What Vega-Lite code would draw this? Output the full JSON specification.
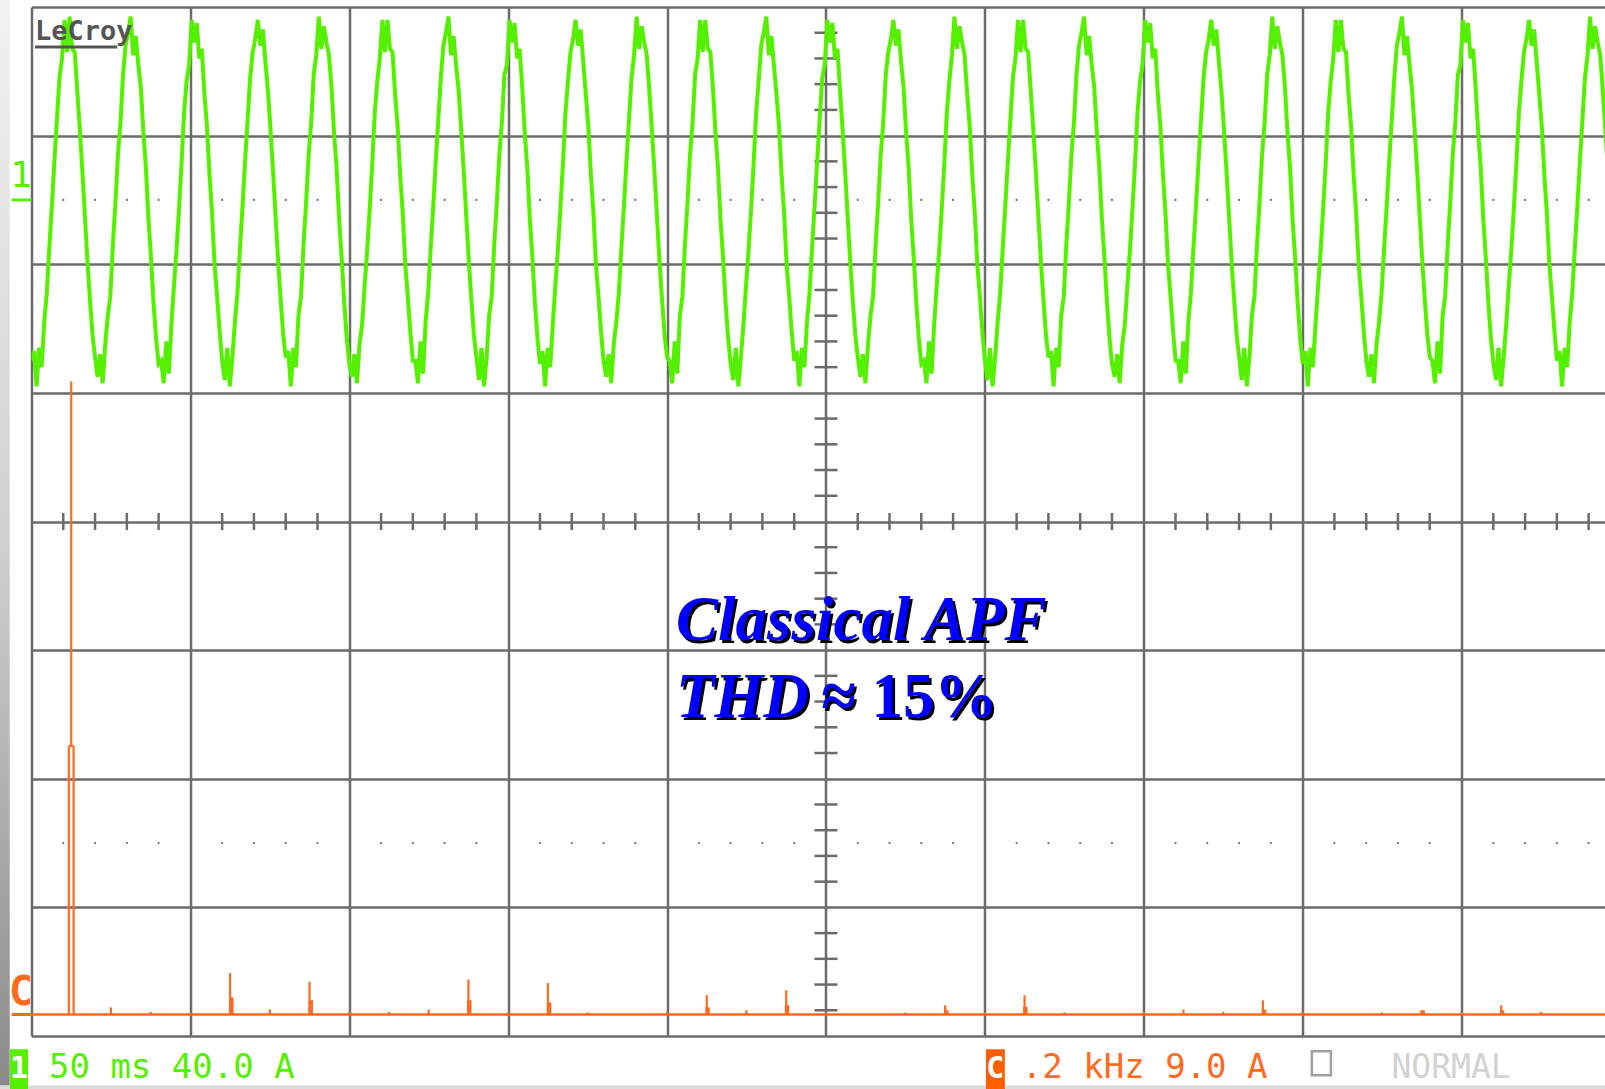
{
"$schema": "https://vega.github.io/schema/vega-lite/v6.json",
"width": 1573.5,
"height": 1029,
"autosize": {"type": "none"},
"padding": {"left": 31.5, "top": 7, "right": 0, "bottom": 53},
"background": "white",
"config": {"view": {"stroke": null}},
"datasets": {
"wave": [
{"t":0,"a":-50},{"t":0.8,"a":-47},{"t":1.6,"a":-58},{"t":2.4,"a":-46},{"t":3.2,"a":-52},{"t":4,"a":-38},{"t":4.8,"a":-29},{"t":5.6,"a":-15},{"t":6.4,"a":-2},{"t":7.2,"a":12},{"t":8,"a":25},{"t":8.8,"a":38},{"t":9.6,"a":44},{"t":10.4,"a":56},{"t":11.2,"a":46},{"t":12,"a":57},{"t":12.8,"a":47},{"t":13.6,"a":46},{"t":14.4,"a":34},{"t":15.2,"a":22},{"t":16,"a":9},{"t":16.8,"a":-5},{"t":17.6,"a":-19},{"t":18.4,"a":-31},{"t":19.2,"a":-42},
{"t":20,"a":-49},{"t":20.8,"a":-55},{"t":21.6,"a":-48},{"t":22.4,"a":-57},{"t":23.2,"a":-45},{"t":24,"a":-36},{"t":24.8,"a":-30},{"t":25.6,"a":-14},{"t":26.4,"a":-1},{"t":27.2,"a":14},{"t":28,"a":24},{"t":28.8,"a":39},{"t":29.6,"a":48},{"t":30.4,"a":52},{"t":31.2,"a":57},{"t":32,"a":45},{"t":32.8,"a":51},{"t":33.6,"a":42},{"t":34.4,"a":35},{"t":35.2,"a":21},{"t":36,"a":10},{"t":36.8,"a":-6},{"t":37.6,"a":-18},{"t":38.4,"a":-32},{"t":39.2,"a":-43},
{"t":40,"a":-51},{"t":40.8,"a":-50},{"t":41.6,"a":-57},{"t":42.4,"a":-44},{"t":43.2,"a":-54},{"t":44,"a":-39},{"t":44.8,"a":-27},{"t":45.6,"a":-16},{"t":46.4,"a":-3},{"t":47.2,"a":11},{"t":48,"a":27},{"t":48.8,"a":37},{"t":49.6,"a":42},{"t":50.4,"a":56},{"t":51.2,"a":49},{"t":52,"a":55},{"t":52.8,"a":44},{"t":53.6,"a":47},{"t":54.4,"a":33},{"t":55.2,"a":23},{"t":56,"a":8},{"t":56.8,"a":-4},{"t":57.6,"a":-20},{"t":58.4,"a":-30},{"t":59.2,"a":-41},
{"t":60,"a":-50},{"t":60.8,"a":-56},{"t":61.6,"a":-46},{"t":62.4,"a":-58},{"t":63.2,"a":-49},{"t":64,"a":-38},{"t":64.8,"a":-29},{"t":65.6,"a":-15},{"t":66.4,"a":-2},{"t":67.2,"a":12},{"t":68,"a":25},{"t":68.8,"a":38},{"t":69.6,"a":46},{"t":70.4,"a":50},{"t":71.2,"a":56},{"t":72,"a":48},{"t":72.8,"a":53},{"t":73.6,"a":43},{"t":74.4,"a":34},{"t":75.2,"a":22},{"t":76,"a":9},{"t":76.8,"a":-5},{"t":77.6,"a":-19},{"t":78.4,"a":-31},{"t":79.2,"a":-42},
{"t":80,"a":-49},{"t":80.8,"a":-47},{"t":81.6,"a":-58},{"t":82.4,"a":-46},{"t":83.2,"a":-52},{"t":84,"a":-36},{"t":84.8,"a":-30},{"t":85.6,"a":-14},{"t":86.4,"a":-1},{"t":87.2,"a":14},{"t":88,"a":24},{"t":88.8,"a":39},{"t":89.6,"a":45},{"t":90.4,"a":57},{"t":91.2,"a":47},{"t":92,"a":54},{"t":92.8,"a":49},{"t":93.6,"a":45},{"t":94.4,"a":35},{"t":95.2,"a":21},{"t":96,"a":10},{"t":96.8,"a":-6},{"t":97.6,"a":-18},{"t":98.4,"a":-32},{"t":99.2,"a":-43},
{"t":100,"a":-51},{"t":100.8,"a":-55},{"t":101.6,"a":-48},{"t":102.4,"a":-57},{"t":103.2,"a":-45},{"t":104,"a":-39},{"t":104.8,"a":-27},{"t":105.6,"a":-16},{"t":106.4,"a":-3},{"t":107.2,"a":11},{"t":108,"a":27},{"t":108.8,"a":37},{"t":109.6,"a":44},{"t":110.4,"a":56},{"t":111.2,"a":46},{"t":112,"a":56},{"t":112.8,"a":47},{"t":113.6,"a":46},{"t":114.4,"a":33},{"t":115.2,"a":23},{"t":116,"a":8},{"t":116.8,"a":-4},{"t":117.6,"a":-20},{"t":118.4,"a":-30},{"t":119.2,"a":-41},
{"t":120,"a":-50},{"t":120.8,"a":-50},{"t":121.6,"a":-57},{"t":122.4,"a":-44},{"t":123.2,"a":-54},{"t":124,"a":-38},{"t":124.8,"a":-29},{"t":125.6,"a":-15},{"t":126.4,"a":-2},{"t":127.2,"a":12},{"t":128,"a":25},{"t":128.8,"a":38},{"t":129.6,"a":48},{"t":130.4,"a":52},{"t":131.2,"a":57},{"t":132,"a":45},{"t":132.8,"a":51},{"t":133.6,"a":42},{"t":134.4,"a":34},{"t":135.2,"a":22},{"t":136,"a":9},{"t":136.8,"a":-5},{"t":137.6,"a":-19},{"t":138.4,"a":-31},{"t":139.2,"a":-42},
{"t":140,"a":-49},{"t":140.8,"a":-56},{"t":141.6,"a":-46},{"t":142.4,"a":-58},{"t":143.2,"a":-49},{"t":144,"a":-36},{"t":144.8,"a":-30},{"t":145.6,"a":-14},{"t":146.4,"a":-1},{"t":147.2,"a":14},{"t":148,"a":24},{"t":148.8,"a":39},{"t":149.6,"a":42},{"t":150.4,"a":56},{"t":151.2,"a":49},{"t":152,"a":55},{"t":152.8,"a":44},{"t":153.6,"a":47},{"t":154.4,"a":35},{"t":155.2,"a":21},{"t":156,"a":10},{"t":156.8,"a":-6},{"t":157.6,"a":-18},{"t":158.4,"a":-32},{"t":159.2,"a":-43},
{"t":160,"a":-51},{"t":160.8,"a":-47},{"t":161.6,"a":-58},{"t":162.4,"a":-46},{"t":163.2,"a":-52},{"t":164,"a":-39},{"t":164.8,"a":-27},{"t":165.6,"a":-16},{"t":166.4,"a":-3},{"t":167.2,"a":11},{"t":168,"a":27},{"t":168.8,"a":37},{"t":169.6,"a":46},{"t":170.4,"a":50},{"t":171.2,"a":56},{"t":172,"a":48},{"t":172.8,"a":53},{"t":173.6,"a":43},{"t":174.4,"a":33},{"t":175.2,"a":23},{"t":176,"a":8},{"t":176.8,"a":-4},{"t":177.6,"a":-20},{"t":178.4,"a":-30},{"t":179.2,"a":-41},
{"t":180,"a":-50},{"t":180.8,"a":-55},{"t":181.6,"a":-48},{"t":182.4,"a":-57},{"t":183.2,"a":-45},{"t":184,"a":-38},{"t":184.8,"a":-29},{"t":185.6,"a":-15},{"t":186.4,"a":-2},{"t":187.2,"a":12},{"t":188,"a":25},{"t":188.8,"a":38},{"t":189.6,"a":45},{"t":190.4,"a":57},{"t":191.2,"a":47},{"t":192,"a":54},{"t":192.8,"a":49},{"t":193.6,"a":45},{"t":194.4,"a":34},{"t":195.2,"a":22},{"t":196,"a":9},{"t":196.8,"a":-5},{"t":197.6,"a":-19},{"t":198.4,"a":-31},{"t":199.2,"a":-42},
{"t":200,"a":-49},{"t":200.8,"a":-50},{"t":201.6,"a":-57},{"t":202.4,"a":-44},{"t":203.2,"a":-54},{"t":204,"a":-36},{"t":204.8,"a":-30},{"t":205.6,"a":-14},{"t":206.4,"a":-1},{"t":207.2,"a":14},{"t":208,"a":24},{"t":208.8,"a":39},{"t":209.6,"a":44},{"t":210.4,"a":56},{"t":211.2,"a":46},{"t":212,"a":56},{"t":212.8,"a":47},{"t":213.6,"a":46},{"t":214.4,"a":35},{"t":215.2,"a":21},{"t":216,"a":10},{"t":216.8,"a":-6},{"t":217.6,"a":-18},{"t":218.4,"a":-32},{"t":219.2,"a":-43},
{"t":220,"a":-51},{"t":220.8,"a":-56},{"t":221.6,"a":-46},{"t":222.4,"a":-58},{"t":223.2,"a":-49},{"t":224,"a":-39},{"t":224.8,"a":-27},{"t":225.6,"a":-16},{"t":226.4,"a":-3},{"t":227.2,"a":11},{"t":228,"a":27},{"t":228.8,"a":37},{"t":229.6,"a":48},{"t":230.4,"a":52},{"t":231.2,"a":57},{"t":232,"a":45},{"t":232.8,"a":51},{"t":233.6,"a":42},{"t":234.4,"a":33},{"t":235.2,"a":23},{"t":236,"a":8},{"t":236.8,"a":-4},{"t":237.6,"a":-20},{"t":238.4,"a":-30},{"t":239.2,"a":-41},
{"t":240,"a":-50},{"t":240.8,"a":-47},{"t":241.6,"a":-58},{"t":242.4,"a":-46},{"t":243.2,"a":-52},{"t":244,"a":-38},{"t":244.8,"a":-29},{"t":245.6,"a":-15},{"t":246.4,"a":-2},{"t":247.2,"a":12},{"t":248,"a":25},{"t":248.8,"a":38},{"t":249.6,"a":42},{"t":250.4,"a":56},{"t":251.2,"a":49},{"t":252,"a":55},{"t":252.8,"a":44},{"t":253.6,"a":47},{"t":254.4,"a":34},{"t":255.2,"a":22},{"t":256,"a":9},{"t":256.8,"a":-5},{"t":257.6,"a":-19},{"t":258.4,"a":-31},{"t":259.2,"a":-42},
{"t":260,"a":-49},{"t":260.8,"a":-55},{"t":261.6,"a":-48},{"t":262.4,"a":-57},{"t":263.2,"a":-45},{"t":264,"a":-36},{"t":264.8,"a":-30},{"t":265.6,"a":-14},{"t":266.4,"a":-1},{"t":267.2,"a":14},{"t":268,"a":24},{"t":268.8,"a":39},{"t":269.6,"a":46},{"t":270.4,"a":50},{"t":271.2,"a":56},{"t":272,"a":48},{"t":272.8,"a":53},{"t":273.6,"a":43},{"t":274.4,"a":35},{"t":275.2,"a":21},{"t":276,"a":10},{"t":276.8,"a":-6},{"t":277.6,"a":-18},{"t":278.4,"a":-32},{"t":279.2,"a":-43},
{"t":280,"a":-51},{"t":280.8,"a":-50},{"t":281.6,"a":-57},{"t":282.4,"a":-44},{"t":283.2,"a":-54},{"t":284,"a":-39},{"t":284.8,"a":-27},{"t":285.6,"a":-16},{"t":286.4,"a":-3},{"t":287.2,"a":11},{"t":288,"a":27},{"t":288.8,"a":37},{"t":289.6,"a":45},{"t":290.4,"a":57},{"t":291.2,"a":47},{"t":292,"a":54},{"t":292.8,"a":49},{"t":293.6,"a":45},{"t":294.4,"a":33},{"t":295.2,"a":23},{"t":296,"a":8},{"t":296.8,"a":-4},{"t":297.6,"a":-20},{"t":298.4,"a":-30},{"t":299.2,"a":-41},
{"t":300,"a":-50},{"t":300.8,"a":-56},{"t":301.6,"a":-46},{"t":302.4,"a":-58},{"t":303.2,"a":-49},{"t":304,"a":-38},{"t":304.8,"a":-29},{"t":305.6,"a":-15},{"t":306.4,"a":-2},{"t":307.2,"a":12},{"t":308,"a":25},{"t":308.8,"a":38},{"t":309.6,"a":44},{"t":310.4,"a":56},{"t":311.2,"a":46},{"t":312,"a":56},{"t":312.8,"a":47},{"t":313.6,"a":46},{"t":314.4,"a":34},{"t":315.2,"a":22},{"t":316,"a":9},{"t":316.8,"a":-5},{"t":317.6,"a":-19},{"t":318.4,"a":-31},{"t":319.2,"a":-42},
{"t":320,"a":-49},{"t":320.8,"a":-47},{"t":321.6,"a":-58},{"t":322.4,"a":-46},{"t":323.2,"a":-52},{"t":324,"a":-36},{"t":324.8,"a":-30},{"t":325.6,"a":-14},{"t":326.4,"a":-1},{"t":327.2,"a":14},{"t":328,"a":24},{"t":328.8,"a":39},{"t":329.6,"a":48},{"t":330.4,"a":52},{"t":331.2,"a":57},{"t":332,"a":45},{"t":332.8,"a":51},{"t":333.6,"a":42},{"t":334.4,"a":35},{"t":335.2,"a":21},{"t":336,"a":10},{"t":336.8,"a":-6},{"t":337.6,"a":-18},{"t":338.4,"a":-32},{"t":339.2,"a":-43},
{"t":340,"a":-51},{"t":340.8,"a":-55},{"t":341.6,"a":-48},{"t":342.4,"a":-57},{"t":343.2,"a":-45},{"t":344,"a":-39},{"t":344.8,"a":-27},{"t":345.6,"a":-16},{"t":346.4,"a":-3},{"t":347.2,"a":11},{"t":348,"a":27},{"t":348.8,"a":37},{"t":349.6,"a":42},{"t":350.4,"a":56},{"t":351.2,"a":49},{"t":352,"a":55},{"t":352.8,"a":44},{"t":353.6,"a":47},{"t":354.4,"a":33},{"t":355.2,"a":23},{"t":356,"a":8},{"t":356.8,"a":-4},{"t":357.6,"a":-20},{"t":358.4,"a":-30},{"t":359.2,"a":-41},
{"t":360,"a":-50},{"t":360.8,"a":-50},{"t":361.6,"a":-57},{"t":362.4,"a":-44},{"t":363.2,"a":-54},{"t":364,"a":-38},{"t":364.8,"a":-29},{"t":365.6,"a":-15},{"t":366.4,"a":-2},{"t":367.2,"a":12},{"t":368,"a":25},{"t":368.8,"a":38},{"t":369.6,"a":46},{"t":370.4,"a":50},{"t":371.2,"a":56},{"t":372,"a":48},{"t":372.8,"a":53},{"t":373.6,"a":43},{"t":374.4,"a":34},{"t":375.2,"a":22},{"t":376,"a":9},{"t":376.8,"a":-5},{"t":377.6,"a":-19},{"t":378.4,"a":-31},{"t":379.2,"a":-42},
{"t":380,"a":-49},{"t":380.8,"a":-56},{"t":381.6,"a":-46},{"t":382.4,"a":-58},{"t":383.2,"a":-49},{"t":384,"a":-36},{"t":384.8,"a":-30},{"t":385.6,"a":-14},{"t":386.4,"a":-1},{"t":387.2,"a":14},{"t":388,"a":24},{"t":388.8,"a":39},{"t":389.6,"a":45},{"t":390.4,"a":57},{"t":391.2,"a":47},{"t":392,"a":54},{"t":392.8,"a":49},{"t":393.6,"a":45},{"t":394.4,"a":35},{"t":395.2,"a":21},{"t":396,"a":10},{"t":396.8,"a":-6},{"t":397.6,"a":-18},{"t":398.4,"a":-32},{"t":399.2,"a":-43},
{"t":400,"a":-51},{"t":400.8,"a":-47},{"t":401.6,"a":-58},{"t":402.4,"a":-46},{"t":403.2,"a":-52},{"t":404,"a":-39},{"t":404.8,"a":-27},{"t":405.6,"a":-16},{"t":406.4,"a":-3},{"t":407.2,"a":11},{"t":408,"a":27},{"t":408.8,"a":37},{"t":409.6,"a":44},{"t":410.4,"a":56},{"t":411.2,"a":46},{"t":412,"a":56},{"t":412.8,"a":47},{"t":413.6,"a":46},{"t":414.4,"a":33},{"t":415.2,"a":23},{"t":416,"a":8},{"t":416.8,"a":-4},{"t":417.6,"a":-20},{"t":418.4,"a":-30},{"t":419.2,"a":-41},
{"t":420,"a":-50},{"t":420.8,"a":-55},{"t":421.6,"a":-48},{"t":422.4,"a":-57},{"t":423.2,"a":-45},{"t":424,"a":-38},{"t":424.8,"a":-29},{"t":425.6,"a":-15},{"t":426.4,"a":-2},{"t":427.2,"a":12},{"t":428,"a":25},{"t":428.8,"a":38},{"t":429.6,"a":48},{"t":430.4,"a":52},{"t":431.2,"a":57},{"t":432,"a":45},{"t":432.8,"a":51},{"t":433.6,"a":42},{"t":434.4,"a":34},{"t":435.2,"a":22},{"t":436,"a":9},{"t":436.8,"a":-5},{"t":437.6,"a":-19},{"t":438.4,"a":-31},{"t":439.2,"a":-42},
{"t":440,"a":-49},{"t":440.8,"a":-50},{"t":441.6,"a":-57},{"t":442.4,"a":-44},{"t":443.2,"a":-54},{"t":444,"a":-36},{"t":444.8,"a":-30},{"t":445.6,"a":-14},{"t":446.4,"a":-1},{"t":447.2,"a":14},{"t":448,"a":24},{"t":448.8,"a":39},{"t":449.6,"a":42},{"t":450.4,"a":56},{"t":451.2,"a":49},{"t":452,"a":55},{"t":452.8,"a":44},{"t":453.6,"a":47},{"t":454.4,"a":35},{"t":455.2,"a":21},{"t":456,"a":10},{"t":456.8,"a":-6},{"t":457.6,"a":-18},{"t":458.4,"a":-32},{"t":459.2,"a":-43},
{"t":460,"a":-51},{"t":460.8,"a":-56},{"t":461.6,"a":-46},{"t":462.4,"a":-58},{"t":463.2,"a":-49},{"t":464,"a":-39},{"t":464.8,"a":-27},{"t":465.6,"a":-16},{"t":466.4,"a":-3},{"t":467.2,"a":11},{"t":468,"a":27},{"t":468.8,"a":37},{"t":469.6,"a":46},{"t":470.4,"a":50},{"t":471.2,"a":56},{"t":472,"a":48},{"t":472.8,"a":53},{"t":473.6,"a":43},{"t":474.4,"a":33},{"t":475.2,"a":23},{"t":476,"a":8},{"t":476.8,"a":-4},{"t":477.6,"a":-20},{"t":478.4,"a":-30},{"t":479.2,"a":-41},
{"t":480,"a":-50},{"t":480.8,"a":-47},{"t":481.6,"a":-58},{"t":482.4,"a":-46},{"t":483.2,"a":-52},{"t":484,"a":-38},{"t":484.8,"a":-29},{"t":485.6,"a":-15},{"t":486.4,"a":-2},{"t":487.2,"a":12},{"t":488,"a":25},{"t":488.8,"a":38},{"t":489.6,"a":45},{"t":490.4,"a":57},{"t":491.2,"a":47},{"t":492,"a":54},{"t":492.8,"a":49},{"t":493.6,"a":45},{"t":494.4,"a":34},{"t":495.2,"a":22},{"t":496,"a":9}
],
"spikes": [
{"f":50,"h":44.3,"b":18.8},{"f":47,"h":18.8,"b":0},{"f":53,"h":18.8,"b":0},{"f":100,"h":0.5,"b":0},{"f":150,"h":0.2,"b":0},{"f":250,"h":2.9,"b":0},{"f":300,"h":0.35,"b":0},{"f":350,"h":2.3,"b":0},{"f":400,"h":0.2,"b":0},{"f":450,"h":0.2,"b":0},{"f":500,"h":0.35,"b":0},{"f":550,"h":2.45,"b":0},{"f":600,"h":0.15,"b":0},{"f":650,"h":2.2,"b":0},{"f":700,"h":0.15,"b":0},{"f":800,"h":0.2,"b":0},{"f":850,"h":1.35,"b":0},{"f":900,"h":0.3,"b":0},{"f":950,"h":1.7,"b":0},{"f":1000,"h":0.15,"b":0},{"f":1100,"h":0.15,"b":0},{"f":1150,"h":0.65,"b":0},{"f":1200,"h":0.15,"b":0},{"f":1250,"h":1.35,"b":0},{"f":1300,"h":0.15,"b":0},{"f":1400,"h":0.15,"b":0},{"f":1450,"h":0.35,"b":0},{"f":1500,"h":0.2,"b":0},{"f":1550,"h":1.0,"b":0},{"f":1600,"h":0.15,"b":0},{"f":1700,"h":0.15,"b":0},{"f":1750,"h":0.3,"b":0},{"f":1800,"h":0.15,"b":0},{"f":1850,"h":0.65,"b":0},{"f":1900,"h":0.2,"b":0}
],
"steps": [
{"f":251.5,"h":1.2},{"f":351.5,"h":1.0},{"f":551,"h":1.0},{"f":651.5,"h":0.85},{"f":851,"h":0.5},{"f":951,"h":0.65},{"f":1151.5,"h":0.3},{"f":1251,"h":0.55},{"f":1551.5,"h":0.35},{"f":1751,"h":0.3},{"f":1851,"h":0.3}
],
"hticks": [
{"x":0.2},{"x":0.4},{"x":0.6},{"x":0.8},{"x":1.2},{"x":1.4},{"x":1.6},{"x":1.8},{"x":2.2},{"x":2.4},{"x":2.6},{"x":2.8},{"x":3.2},{"x":3.4},{"x":3.6},{"x":3.8},{"x":4.2},{"x":4.4},{"x":4.6},{"x":4.8},{"x":5.2},{"x":5.4},{"x":5.6},{"x":5.8},{"x":6.2},{"x":6.4},{"x":6.6},{"x":6.8},{"x":7.2},{"x":7.4},{"x":7.6},{"x":7.8},{"x":8.2},{"x":8.4},{"x":8.6},{"x":8.8},{"x":9.2},{"x":9.4},{"x":9.6},{"x":9.8}
],
"vticks": [
{"y":-3.8},{"y":-3.6},{"y":-3.4},{"y":-3.2},{"y":-2.8},{"y":-2.6},{"y":-2.4},{"y":-2.2},{"y":-1.8},{"y":-1.6},{"y":-1.4},{"y":-1.2},{"y":-0.8},{"y":-0.6},{"y":-0.4},{"y":-0.2},{"y":0.2},{"y":0.4},{"y":0.6},{"y":0.8},{"y":1.2},{"y":1.4},{"y":1.6},{"y":1.8},{"y":2.2},{"y":2.4},{"y":2.6},{"y":2.8},{"y":3.2},{"y":3.4},{"y":3.6},{"y":3.8}
],
"italic": [
{"x":4.056,"y":-0.922,"text":"Classical APF"},
{"x":4.056,"y":-1.521,"text":"THD"}
],
"upright": [
{"x":4.97,"y":-1.521,"text":"≈ 15%"}
]
},
"resolve": {"scale": {"x": "independent", "y": "independent", "color": "independent"}, "axis": {"x": "independent", "y": "independent"}},
"layer": [
{
"data": {"values": [{"x0": -0.2, "x1": -0.137, "y0": 4.06, "y1": -4.42}]},
"mark": {"type": "rect", "color": {"gradient": "linear", "x1": 0, "y1": 0, "x2": 0, "y2": 1, "stops": [{"offset": 0, "color": "#f2f2f2"}, {"offset": 0.5, "color": "#d0d0d0"}, {"offset": 1, "color": "#8a8a8a"}]}},
"encoding": {
"x": {"field": "x0", "type": "quantitative", "scale": {"domain": [0, 9.903], "nice": false, "zero": false}, "axis": null},
"x2": {"field": "x1"},
"y": {"field": "y0", "type": "quantitative", "scale": {"domain": [-4, 4], "nice": false, "zero": false}, "axis": null},
"y2": {"field": "y1"}
}
},
{
"data": {"name": "hticks"},
"mark": {"type": "tick", "orient": "vertical", "size": 17, "thickness": 2.5, "color": "#6b6b6b", "opacity": 1},
"encoding": {
"x": {"field": "x", "type": "quantitative", "scale": {"domain": [0, 9.903], "nice": false, "zero": false},
"axis": {"values": [0,1,2,3,4,5,6,7,8,9], "grid": true, "gridColor": "#6b6b6b", "gridWidth": 2.5, "gridOpacity": 1, "labels": false, "ticks": false, "domain": false, "title": null}},
"y": {"datum": 0, "type": "quantitative", "scale": {"domain": [-4, 4], "nice": false, "zero": false}, "axis": null}
}
},
{
"data": {"name": "vticks"},
"mark": {"type": "tick", "orient": "horizontal", "size": 23, "thickness": 2.5, "color": "#6b6b6b", "opacity": 1},
"encoding": {
"x": {"datum": 5, "type": "quantitative", "scale": {"domain": [0, 9.903], "nice": false, "zero": false}, "axis": null},
"y": {"field": "y", "type": "quantitative", "scale": {"domain": [-4, 4], "nice": false, "zero": false},
"axis": {"values": [-4,-3,-2,-1,0,1,2,3,4], "grid": true, "gridColor": "#6b6b6b", "gridWidth": 2.5, "gridOpacity": 1, "labels": false, "ticks": false, "domain": false, "title": null}}
}
},
{
"data": {"name": "hticks"},
"mark": {"type": "point", "filled": true, "size": 5, "color": "#6b6b6b", "opacity": 1},
"encoding": {
"x": {"field": "x", "type": "quantitative", "scale": {"domain": [0, 9.903], "nice": false, "zero": false}, "axis": null},
"y": {"datum": 2.5, "type": "quantitative", "scale": {"domain": [-4, 4], "nice": false, "zero": false}, "axis": null}
}
},
{
"data": {"name": "hticks"},
"mark": {"type": "point", "filled": true, "size": 5, "color": "#6b6b6b", "opacity": 1},
"encoding": {
"x": {"field": "x", "type": "quantitative", "scale": {"domain": [0, 9.903], "nice": false, "zero": false}, "axis": null},
"y": {"datum": -2.5, "type": "quantitative", "scale": {"domain": [-4, 4], "nice": false, "zero": false}, "axis": null}
}
},
{
"data": {"name": "wave"},
"mark": {"type": "line", "color": "#55f000", "strokeWidth": 4, "clip": true, "strokeJoin": "miter"},
"encoding": {
"x": {"field": "t", "type": "quantitative", "scale": {"domain": [0, 495.1], "nice": false, "zero": false}, "axis": null},
"y": {"field": "a", "type": "quantitative", "scale": {"domain": [-260, 60], "nice": false, "zero": false}, "axis": null}
}
},
{
"data": {"values": [{"v": 0}]},
"mark": {"type": "rule", "color": "#ff6a1f", "strokeWidth": 2.5},
"encoding": {
"y": {"field": "v", "type": "quantitative", "scale": {"domain": [-1.5, 70.5], "nice": false, "zero": false}, "axis": null}
}
},
{
"data": {"name": "spikes"},
"mark": {"type": "rule", "color": "#ff6a1f", "strokeWidth": 2.2},
"encoding": {
"x": {"field": "f", "type": "quantitative", "scale": {"domain": [0, 1980.6], "nice": false, "zero": false}, "axis": null},
"y": {"field": "h", "type": "quantitative", "scale": {"domain": [-1.5, 70.5], "nice": false, "zero": false}, "axis": null},
"y2": {"field": "b"}
}
},
{
"data": {"values": [{"f0": 47, "f1": 53, "h": 18.8}]},
"mark": {"type": "rule", "color": "#ff6a1f", "strokeWidth": 2.2},
"encoding": {
"x": {"field": "f0", "type": "quantitative", "scale": {"domain": [0, 1980.6], "nice": false, "zero": false}, "axis": null},
"x2": {"field": "f1"},
"y": {"field": "h", "type": "quantitative", "scale": {"domain": [-1.5, 70.5], "nice": false, "zero": false}, "axis": null}
}
},
{
"data": {"name": "steps"},
"mark": {"type": "rule", "color": "#ff6a1f", "strokeWidth": 4.5},
"encoding": {
"x": {"field": "f", "type": "quantitative", "scale": {"domain": [0, 1980.6], "nice": false, "zero": false}, "axis": null},
"y": {"field": "h", "type": "quantitative", "scale": {"domain": [-1.5, 70.5], "nice": false, "zero": false}, "axis": null},
"y2": {"datum": 0}
}
},
{
"data": {"values": [{"x0": -0.2, "x1": 10, "y0": -4.383, "y1": -4.42}]},
"mark": {"type": "rect", "color": "#dcdcdc"},
"encoding": {
"x": {"field": "x0", "type": "quantitative", "scale": {"domain": [0, 9.903], "nice": false, "zero": false}, "axis": null},
"x2": {"field": "x1"},
"y": {"field": "y0", "type": "quantitative", "scale": {"domain": [-4, 4], "nice": false, "zero": false}, "axis": null},
"y2": {"field": "y1"}
}
},
{
"data": {"values": [{"x0": -0.135, "x1": -0.022, "y0": -4.103, "y1": -4.42}]},
"mark": {"type": "rect", "color": "#55f000"},
"encoding": {
"x": {"field": "x0", "type": "quantitative", "scale": {"domain": [0, 9.903], "nice": false, "zero": false}, "axis": null},
"x2": {"field": "x1"},
"y": {"field": "y0", "type": "quantitative", "scale": {"domain": [-4, 4], "nice": false, "zero": false}, "axis": null},
"y2": {"field": "y1"}
}
},
{
"data": {"values": [{"x0": 6.007, "x1": 6.126, "y0": -4.103, "y1": -4.42}]},
"mark": {"type": "rect", "color": "#ff5f00"},
"encoding": {
"x": {"field": "x0", "type": "quantitative", "scale": {"domain": [0, 9.903], "nice": false, "zero": false}, "axis": null},
"x2": {"field": "x1"},
"y": {"field": "y0", "type": "quantitative", "scale": {"domain": [-4, 4], "nice": false, "zero": false}, "axis": null},
"y2": {"field": "y1"}
}
},
{
"data": {"values": [{"x0": 8.058, "x1": 8.178, "y0": -4.118, "y1": -4.305}]},
"mark": {"type": "rect", "fill": null, "stroke": "#a0a0a0", "strokeWidth": 2.5},
"encoding": {
"x": {"field": "x0", "type": "quantitative", "scale": {"domain": [0, 9.903], "nice": false, "zero": false}, "axis": null},
"x2": {"field": "x1"},
"y": {"field": "y0", "type": "quantitative", "scale": {"domain": [-4, 4], "nice": false, "zero": false}, "axis": null},
"y2": {"field": "y1"}
}
},
{
"data": {"values": [{"x0": 0.022, "x1": 0.54, "y": 3.689}]},
"mark": {"type": "rule", "strokeWidth": 3, "color": "#555555"},
"encoding": {
"x": {"field": "x0", "type": "quantitative", "scale": {"domain": [0, 9.903], "nice": false, "zero": false}, "axis": null},
"x2": {"field": "x1"},
"y": {"field": "y", "type": "quantitative", "scale": {"domain": [-4, 4], "nice": false, "zero": false}, "axis": null}
}
},
{
"data": {"values": [{"x0": -0.125, "x1": 0, "y": 2.5}]},
"mark": {"type": "rule", "strokeWidth": 3, "color": "#55f000"},
"encoding": {
"x": {"field": "x0", "type": "quantitative", "scale": {"domain": [0, 9.903], "nice": false, "zero": false}, "axis": null},
"x2": {"field": "x1"},
"y": {"field": "y", "type": "quantitative", "scale": {"domain": [-4, 4], "nice": false, "zero": false}, "axis": null}
}
},
{
"data": {"values": [{"x0": -0.125, "x1": 0, "y": -3.833}]},
"mark": {"type": "rule", "strokeWidth": 3, "color": "#ff6a1f"},
"encoding": {
"x": {"field": "x0", "type": "quantitative", "scale": {"domain": [0, 9.903], "nice": false, "zero": false}, "axis": null},
"x2": {"field": "x1"},
"y": {"field": "y", "type": "quantitative", "scale": {"domain": [-4, 4], "nice": false, "zero": false}, "axis": null}
}
},
{
"data": {"values": [{"x": 0.022, "y": 3.743, "text": "LeCroy"}]},
"mark": {"type": "text", "font": "DejaVu Sans Mono", "fontSize": 27, "fontWeight": "bold", "align": "left", "baseline": "alphabetic", "color": "#555555"},
"encoding": {
"x": {"field": "x", "type": "quantitative", "scale": {"domain": [0, 9.903], "nice": false, "zero": false}, "axis": null},
"y": {"field": "y", "type": "quantitative", "scale": {"domain": [-4, 4], "nice": false, "zero": false}, "axis": null},
"text": {"field": "text"}
}
},
{
"data": {"values": [{"x": -0.066, "y": 2.6, "text": "1"}]},
"mark": {"type": "text", "font": "DejaVu Sans Mono", "fontSize": 36, "align": "center", "baseline": "alphabetic", "color": "#55f000"},
"encoding": {
"x": {"field": "x", "type": "quantitative", "scale": {"domain": [0, 9.903], "nice": false, "zero": false}, "axis": null},
"y": {"field": "y", "type": "quantitative", "scale": {"domain": [-4, 4], "nice": false, "zero": false}, "axis": null},
"text": {"field": "text"}
}
},
{
"data": {"values": [{"x": -0.066, "y": -3.761, "text": "C"}]},
"mark": {"type": "text", "font": "DejaVu Sans Mono", "fontSize": 40, "fontWeight": "bold", "align": "center", "baseline": "alphabetic", "color": "#ff6a1f"},
"encoding": {
"x": {"field": "x", "type": "quantitative", "scale": {"domain": [0, 9.903], "nice": false, "zero": false}, "axis": null},
"y": {"field": "y", "type": "quantitative", "scale": {"domain": [-4, 4], "nice": false, "zero": false}, "axis": null},
"text": {"field": "text"}
}
},
{
"data": {"values": [{"x": -0.079, "y": -4.33, "text": "1"}, {"x": 6.066, "y": -4.33, "text": "C"}]},
"mark": {"type": "text", "font": "DejaVu Sans Mono", "fontSize": 30, "fontWeight": "bold", "align": "center", "baseline": "alphabetic", "color": "#ffffff"},
"encoding": {
"x": {"field": "x", "type": "quantitative", "scale": {"domain": [0, 9.903], "nice": false, "zero": false}, "axis": null},
"y": {"field": "y", "type": "quantitative", "scale": {"domain": [-4, 4], "nice": false, "zero": false}, "axis": null},
"text": {"field": "text"}
}
},
{
"data": {"values": [{"x": 0.11, "y": -4.33, "text": "50 ms 40.0 A"}]},
"mark": {"type": "text", "font": "DejaVu Sans Mono", "fontSize": 34, "align": "left", "baseline": "alphabetic", "color": "#55f000"},
"encoding": {
"x": {"field": "x", "type": "quantitative", "scale": {"domain": [0, 9.903], "nice": false, "zero": false}, "axis": null},
"y": {"field": "y", "type": "quantitative", "scale": {"domain": [-4, 4], "nice": false, "zero": false}, "axis": null},
"text": {"field": "text"}
}
},
{
"data": {"values": [{"x": 6.233, "y": -4.33, "text": ".2 kHz 9.0 A"}]},
"mark": {"type": "text", "font": "DejaVu Sans Mono", "fontSize": 34, "align": "left", "baseline": "alphabetic", "color": "#ff6a1f"},
"encoding": {
"x": {"field": "x", "type": "quantitative", "scale": {"domain": [0, 9.903], "nice": false, "zero": false}, "axis": null},
"y": {"field": "y", "type": "quantitative", "scale": {"domain": [-4, 4], "nice": false, "zero": false}, "axis": null},
"text": {"field": "text"}
}
},
{
"data": {"values": [{"x": 8.559, "y": -4.33, "text": "NORMAL"}]},
"mark": {"type": "text", "font": "DejaVu Sans Mono", "fontSize": 33, "align": "left", "baseline": "alphabetic", "color": "#d2d2d2"},
"encoding": {
"x": {"field": "x", "type": "quantitative", "scale": {"domain": [0, 9.903], "nice": false, "zero": false}, "axis": null},
"y": {"field": "y", "type": "quantitative", "scale": {"domain": [-4, 4], "nice": false, "zero": false}, "axis": null},
"text": {"field": "text"}
}
},
{
"data": {"name": "italic"},
"mark": {"type": "text", "font": "Liberation Serif", "fontSize": 63, "fontWeight": "bold", "fontStyle": "italic", "align": "left", "baseline": "alphabetic", "color": "#000000", "dx": 2.5, "dy": 2.5},
"encoding": {
"x": {"field": "x", "type": "quantitative", "scale": {"domain": [0, 9.903], "nice": false, "zero": false}, "axis": null},
"y": {"field": "y", "type": "quantitative", "scale": {"domain": [-4, 4], "nice": false, "zero": false}, "axis": null},
"text": {"field": "text"}
}
},
{
"data": {"name": "italic"},
"mark": {"type": "text", "font": "Liberation Serif", "fontSize": 63, "fontWeight": "bold", "fontStyle": "italic", "align": "left", "baseline": "alphabetic", "color": "#0000ff"},
"encoding": {
"x": {"field": "x", "type": "quantitative", "scale": {"domain": [0, 9.903], "nice": false, "zero": false}, "axis": null},
"y": {"field": "y", "type": "quantitative", "scale": {"domain": [-4, 4], "nice": false, "zero": false}, "axis": null},
"text": {"field": "text"}
}
},
{
"data": {"name": "upright"},
"mark": {"type": "text", "font": "Liberation Serif", "fontSize": 63, "fontWeight": "bold", "align": "left", "baseline": "alphabetic", "color": "#000000", "dx": 2.5, "dy": 2.5},
"encoding": {
"x": {"field": "x", "type": "quantitative", "scale": {"domain": [0, 9.903], "nice": false, "zero": false}, "axis": null},
"y": {"field": "y", "type": "quantitative", "scale": {"domain": [-4, 4], "nice": false, "zero": false}, "axis": null},
"text": {"field": "text"}
}
},
{
"data": {"name": "upright"},
"mark": {"type": "text", "font": "Liberation Serif", "fontSize": 63, "fontWeight": "bold", "align": "left", "baseline": "alphabetic", "color": "#0000ff"},
"encoding": {
"x": {"field": "x", "type": "quantitative", "scale": {"domain": [0, 9.903], "nice": false, "zero": false}, "axis": null},
"y": {"field": "y", "type": "quantitative", "scale": {"domain": [-4, 4], "nice": false, "zero": false}, "axis": null},
"text": {"field": "text"}
}
}
]
}
